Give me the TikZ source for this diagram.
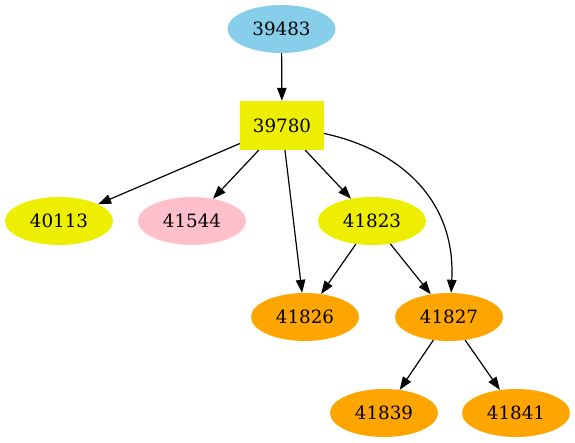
\documentclass[tikz,border=0pt]{standalone}
\usepackage{fontspec}
\setmainfont{DejaVu Serif}
\usetikzlibrary{arrows.meta,shapes.geometric}

\definecolor{skyblue}{RGB}{135,206,235}
\definecolor{yellowtwo}{RGB}{238,238,0}
\definecolor{pinkish}{RGB}{255,192,203}
\definecolor{orangish}{RGB}{255,165,0}

\tikzset{
	job/.style={ellipse,minimum width=108pt,minimum height=48pt,inner sep=0pt,font=\fontsize{18.3}{20}\selectfont},
	jobbox/.style={rectangle,minimum width=84pt,minimum height=49pt,inner sep=0pt,font=\fontsize{18.3}{20}\selectfont},
	link/.style={->,line width=1.2pt}
}

\begin{document}
\begin{tikzpicture}[x=1pt,y=-1pt,>={Triangle[length=13pt 0,width=9.5pt 0]}]
			\useasboundingbox (0,0) rectangle (575,443);
			% top
			\node[job,fill=skyblue] (n39483) at (281.5,29) {39483};
			\node[jobbox,fill=yellowtwo] (n39780) at (282,125.5) {39780};
			% third row
			\node[job,fill=yellowtwo] (n40113) at (59,221) {40113};
			\node[job,fill=pinkish] (n41544) at (192,221) {41544};
			\node[job,fill=yellowtwo] (n41823) at (372,221) {41823};
			% fourth row
			\node[job,fill=orangish] (n41826) at (305,317) {41826};
			\node[job,fill=orangish] (n41827) at (449,317) {41827};
			% bottom
			\node[job,fill=orangish] (n41839) at (384,413) {41839};
			\node[job,fill=orangish] (n41841) at (516,413) {41841};
			% edges
			\draw[link] (n39483) -- (n39780);
			\draw[link] (n39780) -- (n40113);
			\draw[link] (n39780) -- (n41544);
			\draw[link] (n39780) -- (n41823);
			\draw[link] (n39780) -- (n41826);
			\draw[link] (n39780.east) ++(0,8) .. controls (400,150) and (456,200) .. (n41827.85);
			\draw[link] (n41823) -- (n41826);
			\draw[link] (n41823) -- (n41827);
			\draw[link] (n41827) -- (n41839);
			\draw[link] (n41827) -- (n41841);
\end{tikzpicture}
\end{document}
